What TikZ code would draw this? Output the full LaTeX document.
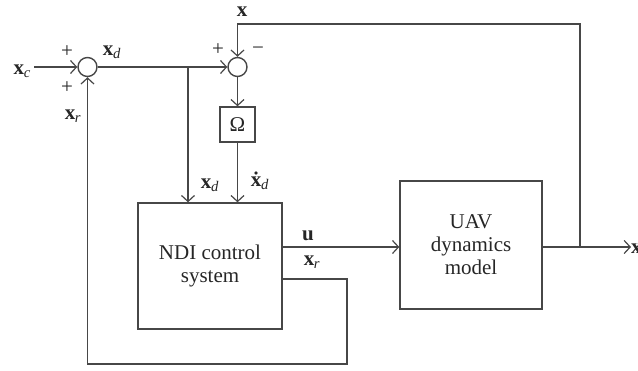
\documentclass[tikz,border=0pt]{standalone}
\usepackage{fontspec}
\setmainfont{Liberation Serif}
\usetikzlibrary{arrows.meta}
\newcommand\bx[1]{\textbf{x}\textsubscript{\kern-0.3pt\textit{#1}}}
\newcommand\bxdot{\ooalign{\textbf{x}\cr\hidewidth\textbf{˙}\hidewidth\cr}}
\begin{document}
\begin{tikzpicture}[x=1pt,y=-1pt,
  every node/.style={font=\fontsize{21}{23}\selectfont, text=black!85},
  ln/.style={line width=1.4pt, draw=black!72},
  arr/.style={ln, -{Straight Barb[length=6pt,width=13pt,line width=1.2pt]}},
  sumc/.style={circle, ln, minimum size=19pt, inner sep=0pt},
  blk/.style={ln, rectangle, inner sep=0pt, align=center},
  lab/.style={inner sep=0pt}]
\useasboundingbox (0,0) rectangle (638,370);
% nodes
\node[sumc] (s1) at (87.5,67) {};
\node[sumc] (s2) at (237.5,67) {};
\node[blk, minimum width=35pt, minimum height=35pt] (om) at (237.5,124.5) {Ω};
\node[blk, minimum width=144pt, minimum height=126pt] (ndi) at (210,266) {NDI control\\system};
\node[blk, minimum width=142pt, minimum height=128pt] (uav) at (471,245) {UAV\\dynamics\\model};
\node[lab, anchor=east] (xc) at (31,71) {\bx{c}};
\node[lab, anchor=west] (xo) at (631,249) {\textbf{x}};
% labels
\node[lab] (p1) at (67,52) {+};
\node[lab] (p2) at (67,88) {+};
\node[lab] (lxd) at (112,52) {\bx{d}};
\node[lab] (lxr) at (73,116) {\bx{r}};
\node[lab] (p3) at (218,50) {+};
\node[lab] (m3) at (258,51) {−};
\node[lab] (lx) at (242,12) {\textbf{x}};
\node[lab] (lxd2) at (210,185) {\bx{d}};
\node[lab] (lxdd) at (260,183) {\bxdot\textsubscript{\kern-0.3pt\textit{d}}};
\node[lab] (lu) at (308,236) {\textbf{u}};
\node[lab] (lxr2) at (312,262) {\bx{r}};
% coordinates
\coordinate (b1) at (188,67);
\coordinate (b2) at (580,247);
\coordinate (c1) at (237.5,24);
\coordinate (f1) at (347,279);
\coordinate (f2) at (87.5,364);
% connectors
\draw[arr] (xc.east) ++(3,-4) -- (s1.west);
\draw[ln] (s1.east) -- (b1);
\draw[arr] (b1) -- (s2.west);
\draw[arr] (b1) -- (b1 |- ndi.north);
\draw[arr] (s2.south) -- (om.north);
\draw[arr] (om.south) -- (om.south |- ndi.north);
\draw[arr] (b2) -- (b2 |- c1) -- (c1) -- (s2.north);
\draw[arr] (uav.east |- b2) -- (xo.west |- b2);
\draw[arr] (ndi.east |- b2) -- (uav.west |- b2);
\draw[arr] (f1 -| ndi.east) -- (f1) -- (f1 |- f2) -- (f2) -- (s1.south);
\end{tikzpicture}
\end{document}
